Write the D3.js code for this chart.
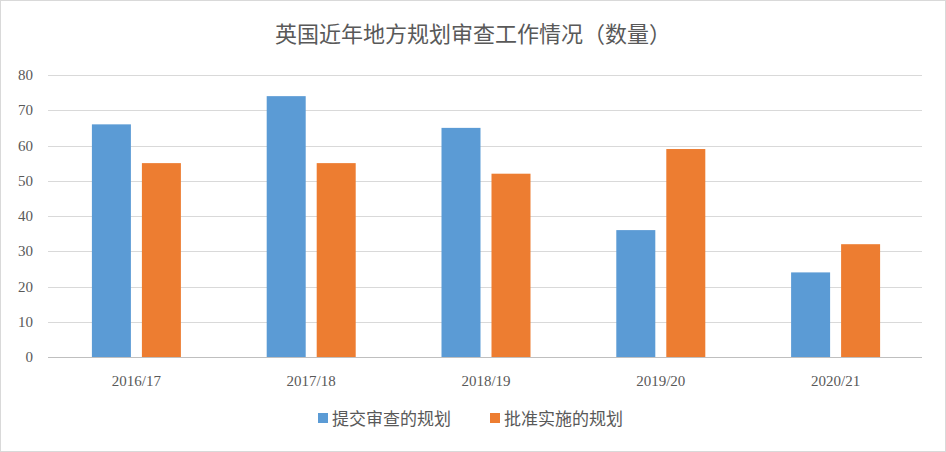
<!DOCTYPE html>
<html>
<head>
<meta charset="utf-8">
<script src="https://cdn.jsdelivr.net/npm/d3@7"></script>
<style>
  body { margin: 0; background: #fff; }
  text { font-family: "Liberation Serif", "Noto Sans CJK SC", serif; }
</style>
</head>
<body>
<script>
var years = ['2016/17', '2017/18', '2018/19', '2019/20', '2020/21'];
var submitted = [66, 74, 65, 36, 24];
var approved = [55, 55, 52, 59, 32];
var seriesNames = ['提交审查的规划', '批准实施的规划'];
var colors = ['#5b9bd5', '#ed7d31'];
var yTicks = [0, 10, 20, 30, 40, 50, 60, 70, 80];

var W = 946, H = 452;
var svg = d3.select('body').append('svg').attr('width', W).attr('height', H);

svg.append('rect').attr('x', 0.5).attr('y', 0.5).attr('width', W - 1).attr('height', H - 1)
  .attr('fill', '#fff').attr('stroke', '#d9d9d9');

svg.append('text').attr('x', W / 2).attr('y', 42).attr('text-anchor', 'middle')
  .attr('font-size', 22).attr('fill', '#595959').text('英国近年地方规划审查工作情况（数量）');

var x = d3.scaleBand().domain(years).range([49, 923]);
var y = d3.scaleLinear().domain([0, 80]).range([357, 75]);
var inner = d3.scaleBand().domain([0, 1]).range([0, x.bandwidth()]).paddingInner(0.22).paddingOuter(0.858);

svg.append('g').selectAll('line').data(yTicks).join('line')
  .attr('x1', 48).attr('x2', 922)
  .attr('y1', function(d) { return Math.round(y(d)) + 0.5; })
  .attr('y2', function(d) { return Math.round(y(d)) + 0.5; })
  .attr('stroke', function(d) { return d === 0 ? '#bfbfbf' : '#d9d9d9'; });

svg.append('g').selectAll('text').data(yTicks).join('text')
  .attr('x', 33).attr('y', function(d) { return y(d) + 5; })
  .attr('text-anchor', 'end').attr('font-size', 15).attr('fill', '#595959')
  .text(function(d) { return d; });

[submitted, approved].forEach(function(vals, s) {
  svg.append('g').selectAll('rect').data(vals).join('rect')
    .attr('x', function(d, i) { return x(years[i]) + inner(s); })
    .attr('width', inner.bandwidth())
    .attr('y', function(d) { return y(d); })
    .attr('height', function(d) { return y(0) - y(d); })
    .attr('fill', colors[s]);
});

svg.append('g').selectAll('text').data(years).join('text')
  .attr('x', function(d) { return x(d) + x.bandwidth() / 2; }).attr('y', 386)
  .attr('text-anchor', 'middle').attr('font-size', 15).attr('fill', '#595959')
  .text(function(d) { return d; });

var legend = svg.append('g');
var lx = [318, 490];
seriesNames.forEach(function(n, i) {
  legend.append('rect').attr('x', lx[i]).attr('y', 413).attr('width', 10).attr('height', 10).attr('fill', colors[i]);
  legend.append('text').attr('x', lx[i] + 14).attr('y', 425).attr('font-size', 17).attr('fill', '#595959').text(n);
});
</script>
</body>
</html>
